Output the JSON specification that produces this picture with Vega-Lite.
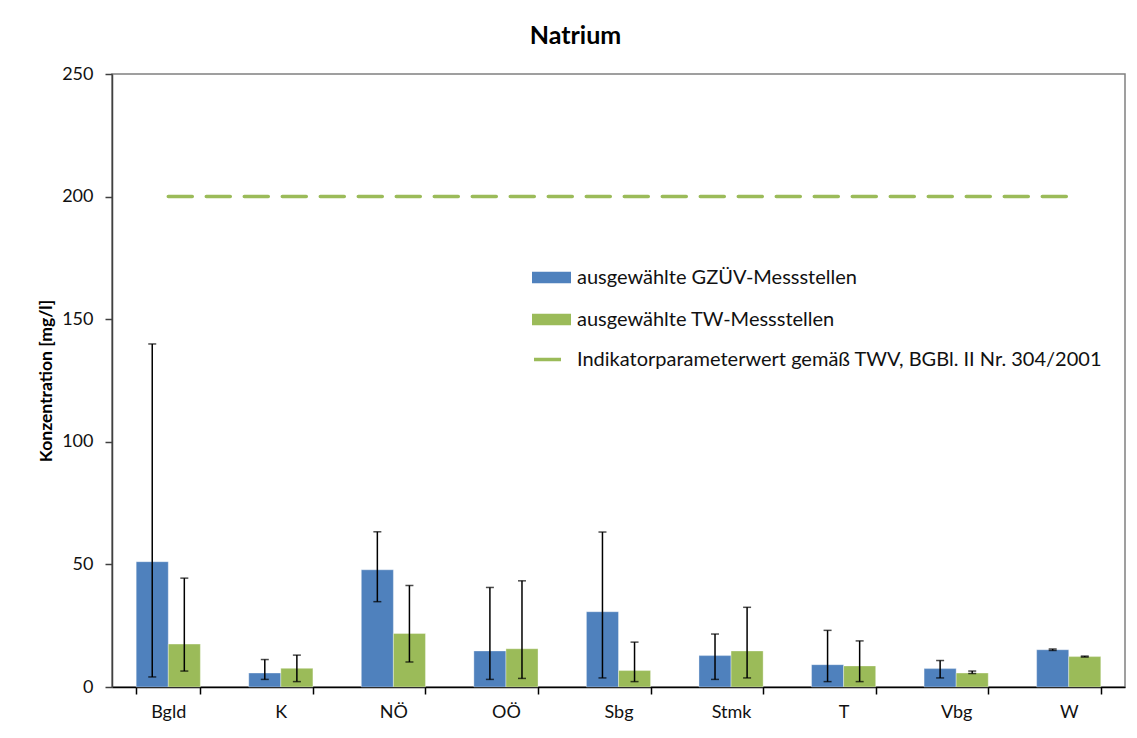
{
  "$schema": "https://vega.github.io/schema/vega-lite/v6.json",
  "autosize": "none",
  "width": 1013,
  "height": 613,
  "padding": {"left": 112, "top": 74, "right": 12, "bottom": 51},
  "background": "white",
  "title": {
    "text": "Natrium",
    "font": "Lato",
    "fontSize": 25,
    "fontWeight": "bold",
    "color": "#000000",
    "anchor": "middle",
    "frame": "group",
    "dx": -43,
    "offset": 16
  },
  "config": {
    "font": "Lato",
    "view": {"stroke": "#808080", "strokeWidth": 1.5},
    "axis": {
      "labelFont": "Lato",
      "labelFontSize": 18,
      "labelColor": "#111111",
      "titleFont": "Lato",
      "grid": false
    }
  },
  "data": {
    "values": [
      {"cat": "Bgld", "series": "ausgewählte GZÜV-Messstellen", "value": 51.1, "lo": 4.1, "hi": 139.9},
      {"cat": "Bgld", "series": "ausgewählte TW-Messstellen", "value": 17.5, "lo": 6.5, "hi": 44.4},
      {"cat": "K", "series": "ausgewählte GZÜV-Messstellen", "value": 5.7, "lo": 3.1, "hi": 11.2},
      {"cat": "K", "series": "ausgewählte TW-Messstellen", "value": 7.6, "lo": 2.2, "hi": 13.0},
      {"cat": "NÖ", "series": "ausgewählte GZÜV-Messstellen", "value": 47.8, "lo": 34.8, "hi": 63.3},
      {"cat": "NÖ", "series": "ausgewählte TW-Messstellen", "value": 21.8, "lo": 10.2, "hi": 41.4},
      {"cat": "OÖ", "series": "ausgewählte GZÜV-Messstellen", "value": 14.7, "lo": 3.1, "hi": 40.6},
      {"cat": "OÖ", "series": "ausgewählte TW-Messstellen", "value": 15.6, "lo": 3.5, "hi": 43.3},
      {"cat": "Sbg", "series": "ausgewählte GZÜV-Messstellen", "value": 30.7, "lo": 3.7, "hi": 63.2},
      {"cat": "Sbg", "series": "ausgewählte TW-Messstellen", "value": 6.7, "lo": 2.2, "hi": 18.3},
      {"cat": "Stmk", "series": "ausgewählte GZÜV-Messstellen", "value": 12.8, "lo": 3.1, "hi": 21.6},
      {"cat": "Stmk", "series": "ausgewählte TW-Messstellen", "value": 14.7, "lo": 3.7, "hi": 32.5},
      {"cat": "T", "series": "ausgewählte GZÜV-Messstellen", "value": 9.1, "lo": 2.2, "hi": 23.1},
      {"cat": "T", "series": "ausgewählte TW-Messstellen", "value": 8.6, "lo": 2.2, "hi": 18.8},
      {"cat": "Vbg", "series": "ausgewählte GZÜV-Messstellen", "value": 7.5, "lo": 3.7, "hi": 10.8},
      {"cat": "Vbg", "series": "ausgewählte TW-Messstellen", "value": 5.7, "lo": 5.5, "hi": 6.5},
      {"cat": "W", "series": "ausgewählte GZÜV-Messstellen", "value": 15.2, "lo": 14.9, "hi": 15.5},
      {"cat": "W", "series": "ausgewählte TW-Messstellen", "value": 12.4, "lo": 12.2, "hi": 12.6}
    ]
  },
  "encoding": {
    "x": {
      "field": "cat",
      "type": "nominal",
      "sort": ["Bgld", "K", "NÖ", "OÖ", "Sbg", "Stmk", "T", "Vbg", "W"],
      "scale": {"paddingInner": 0.43, "paddingOuter": 0.215},
      "axis": {
        "title": null,
        "labelAngle": 0,
        "tickBand": "extent",
        "tickSize": 7,
        "tickColor": "#000000",
        "domainColor": "#000000",
        "domainWidth": 1.5,
        "tickWidth": 1.5,
        "labelPadding": 9
      }
    }
  },
  "layer": [
    {
      "mark": {"type": "bar", "stroke": "#ffffff", "strokeOpacity": 0.35, "strokeWidth": 1},
      "encoding": {
        "xOffset": {"field": "series", "type": "nominal", "sort": ["ausgewählte GZÜV-Messstellen", "ausgewählte TW-Messstellen"], "scale": {"paddingInner": 0, "paddingOuter": 0}},
        "y": {
          "field": "value",
          "type": "quantitative",
          "scale": {"domain": [0, 250], "nice": false},
          "axis": {
            "title": "Konzentration [mg/l]",
            "titleFontSize": 17.5,
            "titleFontWeight": "bold",
            "titleColor": "#000000",
            "titlePadding": 6,
            "values": [0, 50, 100, 150, 200, 250],
            "tickSize": 7,
            "labelPadding": 12,
            "tickColor": "#404040",
            "domainColor": "#404040",
            "domainWidth": 1.5,
            "tickWidth": 1.5
          }
        },
        "fill": {
          "field": "series",
          "type": "nominal",
          "scale": {"domain": ["ausgewählte GZÜV-Messstellen", "ausgewählte TW-Messstellen"], "range": ["#4F81BD", "#9BBB59"]},
          "legend": {
            "title": null,
            "orient": "none",
            "legendX": 420,
            "legendY": 184,
            "padding": 0,
            "symbolType": "M-1,-0.3H1V0.3H-1Z",
            "symbolSize": 1521,
            "symbolStrokeWidth": 0,
            "labelFont": "Lato",
            "labelFontSize": 20,
            "labelColor": "#111111",
            "labelOffset": 6,
            "rowPadding": 12,
            "labelLimit": 600
          }
        }
      }
    },
    {
      "mark": {"type": "rule", "color": "#000000", "strokeWidth": 1.5},
      "encoding": {
        "xOffset": {"field": "series", "type": "nominal", "sort": ["ausgewählte GZÜV-Messstellen", "ausgewählte TW-Messstellen"]},
        "y": {"field": "lo", "type": "quantitative"},
        "y2": {"field": "hi"}
      }
    },
    {
      "mark": {"type": "tick", "color": "#000000", "size": 8, "thickness": 1.5},
      "encoding": {
        "xOffset": {"field": "series", "type": "nominal", "sort": ["ausgewählte GZÜV-Messstellen", "ausgewählte TW-Messstellen"]},
        "y": {"field": "lo", "type": "quantitative"}
      }
    },
    {
      "mark": {"type": "tick", "color": "#000000", "size": 8, "thickness": 1.5},
      "encoding": {
        "xOffset": {"field": "series", "type": "nominal", "sort": ["ausgewählte GZÜV-Messstellen", "ausgewählte TW-Messstellen"]},
        "y": {"field": "hi", "type": "quantitative"}
      }
    },
    {
      "mark": {"type": "line", "strokeWidth": 3.5, "strokeDash": [24, 14], "strokeCap": "round"},
      "encoding": {
        "y": {"datum": 200, "type": "quantitative"},
        "stroke": {
          "datum": "Indikatorparameterwert gemäß TWV, BGBl. II Nr. 304/2001",
          "type": "nominal",
          "scale": {"range": ["#9BBB59"]},
          "legend": {
            "title": null,
            "orient": "none",
            "legendX": 420,
            "legendY": 270,
            "padding": 0,
            "symbolType": "stroke",
            "symbolSize": 729,
            "symbolStrokeWidth": 3.5,
            "symbolDash": [],
            "labelFont": "Lato",
            "labelFontSize": 20,
            "labelColor": "#111111",
            "labelOffset": 14,
            "labelLimit": 700
          }
        }
      }
    }
  ]
}
